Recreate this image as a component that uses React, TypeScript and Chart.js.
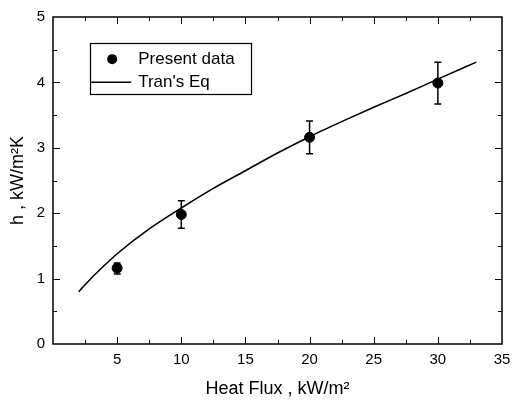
import React, { useEffect, useRef } from "react";
import { Chart, registerables } from "chart.js";

Chart.register(...registerables);

const heatFlux = [5, 10, 20, 30];
const hMeasured = [1.16, 1.98, 3.16, 3.99];
const hErrLow = [1.07, 1.77, 2.91, 3.67];
const hErrHigh = [1.24, 2.19, 3.41, 4.31];

const tranX = [2, 3, 4, 5, 7.5, 10, 12.5, 15, 17.5, 20, 22.5, 25, 27.5, 30, 33];
const tranY = [0.8, 1.01, 1.2, 1.38, 1.76, 2.08, 2.38, 2.65, 2.92, 3.17, 3.4, 3.62, 3.83, 4.05, 4.31];

const xTicks = [5, 10, 15, 20, 25, 30, 35];
const yTicks = [0, 1, 2, 3, 4, 5];

const legendLabels = ["Present data", "Tran's Eq"];

const FONT = "'Liberation Sans', Arial, sans-serif";

const framePlugin = {
  id: "frame",
  afterDatasetsDraw(chart: any) {
    const { ctx, chartArea: a, scales } = chart;
    const xs = scales.x;
    const ys = scales.y;
    ctx.save();
    ctx.strokeStyle = "#000";
    ctx.lineWidth = 1.5;
    ctx.strokeRect(a.left, a.top, a.right - a.left, a.bottom - a.top);
    ctx.lineWidth = 1;
    for (let v = 2.5; v < 35; v += 2.5) {
      const px = Math.round(xs.getPixelForValue(v)) + 0.5;
      const major = Math.abs(v % 5) < 1e-6;
      const len = major ? 7 : 4;
      ctx.beginPath();
      ctx.moveTo(px, a.bottom);
      ctx.lineTo(px, a.bottom - len);
      ctx.moveTo(px, a.top);
      ctx.lineTo(px, a.top + len);
      ctx.stroke();
    }
    for (let v = 0.5; v < 5; v += 0.5) {
      const py = Math.round(ys.getPixelForValue(v)) + 0.5;
      const major = Math.abs(v % 1) < 1e-6;
      const len = major ? 7 : 4;
      ctx.beginPath();
      ctx.moveTo(a.left, py);
      ctx.lineTo(a.left + len, py);
      ctx.moveTo(a.right, py);
      ctx.lineTo(a.right - len, py);
      ctx.stroke();
    }
    ctx.lineWidth = 1.5;
    for (let i = 0; i < heatFlux.length; i++) {
      const px = xs.getPixelForValue(heatFlux[i]);
      const lo = ys.getPixelForValue(hErrLow[i]);
      const hi = ys.getPixelForValue(hErrHigh[i]);
      ctx.beginPath();
      ctx.moveTo(px, lo);
      ctx.lineTo(px, hi);
      ctx.moveTo(px - 3.5, lo);
      ctx.lineTo(px + 3.5, lo);
      ctx.moveTo(px - 3.5, hi);
      ctx.lineTo(px + 3.5, hi);
      ctx.stroke();
    }
    const lx = xs.getPixelForValue(2.9);
    const ly = ys.getPixelForValue(4.6);
    const lw = 161;
    const lh = 51;
    ctx.lineWidth = 1.2;
    ctx.strokeRect(Math.round(lx) + 0.5, Math.round(ly) + 0.5, lw, lh);
    ctx.fillStyle = "#000";
    ctx.beginPath();
    ctx.arc(lx + 22, ly + 16, 5, 0, Math.PI * 2);
    ctx.fill();
    ctx.lineWidth = 1.5;
    ctx.beginPath();
    ctx.moveTo(lx + 1, ly + 39);
    ctx.lineTo(lx + 41, ly + 39);
    ctx.stroke();
    ctx.font = `17px ${FONT}`;
    ctx.textBaseline = "middle";
    ctx.textAlign = "left";
    ctx.fillText(legendLabels[0], lx + 48, ly + 16);
    ctx.fillText(legendLabels[1], lx + 48, ly + 39);
    ctx.restore();
  },
};

export default function App() {
  const ref = useRef<HTMLCanvasElement | null>(null);
  useEffect(() => {
    if (!ref.current) return;
    const chart = new Chart(ref.current, {
      type: "scatter",
      data: {
        datasets: [
          {
            type: "scatter",
            label: legendLabels[0],
            data: heatFlux.map((x, i) => ({ x, y: hMeasured[i] })),
            backgroundColor: "#000",
            borderColor: "#000",
            pointRadius: 5,
            pointHoverRadius: 5,
          },
          {
            type: "line",
            label: legendLabels[1],
            data: tranX.map((x, i) => ({ x, y: tranY[i] })),
            borderColor: "#000",
            borderWidth: 1.6,
            pointRadius: 0,
            cubicInterpolationMode: "monotone",
            fill: false,
          } as any,
        ],
      },
      options: {
        animation: false,
        responsive: false,
        maintainAspectRatio: false,
        layout: { padding: { top: 12, right: 0, left: 0, bottom: 0 } },
        plugins: { legend: { display: false }, tooltip: { enabled: false } },
        scales: {
          x: {
            type: "linear",
            min: 0,
            max: 35,
            afterBuildTicks: (s: any) => {
              s.ticks = xTicks.map((v) => ({ value: v }));
            },
            afterFit: (s: any) => {
              s.height = 59;
              s.paddingLeft = 0;
              s.paddingRight = 10;
            },
            grid: { display: false, drawTicks: false },
            border: { display: false },
            ticks: {
              color: "#000",
              padding: 7,
              maxRotation: 0,
              font: { family: FONT, size: 15 },
            },
            title: {
              display: true,
              text: "Heat Flux , kW/m²",
              color: "#000",
              font: { family: FONT, size: 18 },
              padding: { top: 0, bottom: 3 },
            },
          },
          y: {
            type: "linear",
            min: 0,
            max: 5,
            afterBuildTicks: (s: any) => {
              s.ticks = yTicks.map((v) => ({ value: v }));
            },
            afterFit: (s: any) => {
              s.width = 53;
            },
            grid: { display: false, drawTicks: false },
            border: { display: false },
            ticks: {
              color: "#000",
              padding: 8,
              font: { family: FONT, size: 15 },
            },
            title: {
              display: true,
              text: "h , kW/m²K",
              color: "#000",
              font: { family: FONT, size: 18 },
              padding: { top: 7, bottom: 0 },
            },
          },
        },
      },
      plugins: [framePlugin],
    });
    return () => chart.destroy();
  }, []);
  return (
    <div style={{ position: "absolute", left: 0, top: 0, width: 512, height: 403, background: "#fff" }}>
      <canvas ref={ref} width={512} height={403} style={{ width: 512, height: 403 }} />
    </div>
  );
}
